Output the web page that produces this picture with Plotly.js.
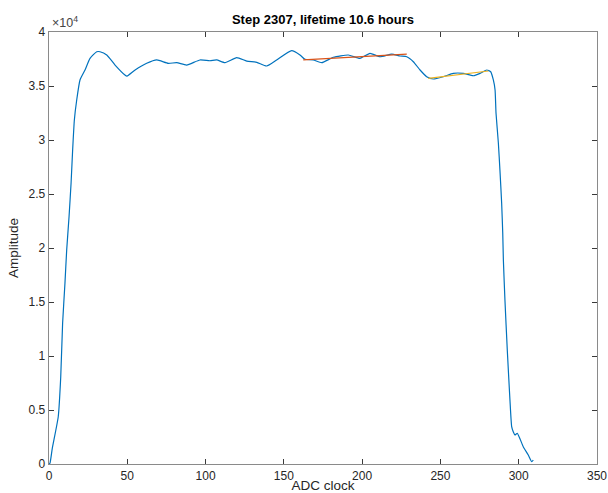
<!DOCTYPE html>
<html>
<head>
<meta charset="utf-8">
<script src="https://cdn.plot.ly/plotly-3.0.1.min.js"></script>
<style>html,body{margin:0;padding:0;background:#fff;}#chart{width:608px;height:493px;}</style>
</head>
<body>
<div id="chart"></div>
<script>
const adcClock = [0, 0.6, 2.1, 5.9, 7.5, 8.7, 10.2, 11.3, 12.8, 14.1, 15.1, 16.2, 17.7, 19.8, 23.0, 26.2, 30.5, 32.6, 36.9, 42.2, 48.5, 49.8, 55, 62.4, 68.8, 76.2, 81.6, 87.9, 96.4, 102.8, 107.1, 112.4, 119.9, 126.3, 132.7, 139.0, 145.4, 155.0, 160.3, 163.5, 168.8, 174.2, 181.6, 191.2, 198.6, 205.0, 211.4, 218.9, 224.2, 228.5, 232.7, 237.0, 241.2, 245.5, 251.8, 258.2, 264.6, 271.0, 275.3, 279.6, 282.1, 283.8, 284.9, 285.5, 287.0, 288.0, 289.1, 289.8, 290.2, 291.2, 292.7, 294.4, 295.5, 296.5, 297.6, 299.1, 302.9, 306.1, 308.3, 309.3];
const amplitude = [0, 65, 1450, 4380, 8080, 13050, 16760, 19810, 22900, 26020, 29070, 31850, 33700, 35560, 36480, 37560, 38170, 38170, 37870, 36940, 36020, 35920, 36480, 37100, 37410, 37100, 37160, 36940, 37410, 37340, 37410, 37160, 37620, 37310, 37190, 36850, 37410, 38270, 37870, 37470, 37410, 37160, 37660, 37870, 37560, 38030, 37710, 37960, 37780, 37710, 37250, 36480, 35860, 35650, 35860, 36170, 36170, 35950, 36170, 36480, 36320, 35560, 34630, 32500, 29720, 27220, 24170, 21390, 18890, 15190, 10560, 5930, 3460, 2990, 2690, 2840, 1600, 830, 210, 370];
const fit1X = [162.4, 228.5];
const fit1Y = [37410, 37960];
const fit2X = [242.2, 280.6];
const fit2Y = [35710, 36390];
const xTickVals = [0, 50, 100, 150, 200, 250, 300, 350];
const yTickVals = [0, 5000, 10000, 15000, 20000, 25000, 30000, 35000, 40000];
const yTickText = ['0', '0.5', '1', '1.5', '2', '2.5', '3', '3.5', '4'];

const font = 'Liberation Sans, Arial, Helvetica, sans-serif';
const traces = [
  {x: adcClock, y: amplitude, mode: 'lines', line: {color: '#0072BD', width: 1.2, shape: 'spline', smoothing: 0.5}, hoverinfo: 'none'},
  {x: fit1X, y: fit1Y, mode: 'lines', line: {color: '#D95319', width: 1.2}, hoverinfo: 'none'},
  {x: fit2X, y: fit2Y, mode: 'lines', line: {color: '#EDB120', width: 1.2}, hoverinfo: 'none'}
];
const axisCommon = {
  showline: true, linecolor: '#8a8a8a', linewidth: 1.3, mirror: 'ticks',
  ticks: 'inside', ticklen: 5, tickwidth: 1, tickcolor: '#3a3a3a',
  showgrid: false, zeroline: false, tickfont: {family: font, size: 12, color: '#262626'}
};
const layout = {
  width: 608, height: 493,
  margin: {l: 49, r: 11, t: 32, b: 29},
  paper_bgcolor: '#fff', plot_bgcolor: '#fff',
  showlegend: false,
  title: {text: '<b>Step 2307, lifetime 10.6 hours</b>', font: {family: font, size: 13, color: '#000'}, x: 0.5, xanchor: 'center', xref: 'paper', y: 0.961, yref: 'container', yanchor: 'middle'},
  xaxis: Object.assign({}, axisCommon, {range: [0, 350], tickvals: xTickVals, ticktext: xTickVals.map(String),
    title: {text: 'ADC clock', font: {family: font, size: 13.5, color: '#262626'}, standoff: 2}}),
  yaxis: Object.assign({}, axisCommon, {range: [0, 40000], tickvals: yTickVals, ticktext: yTickText,
    title: {text: 'Amplitude', font: {family: font, size: 13.5, color: '#262626'}, standoff: 7}}),
  annotations: [{
    xref: 'paper', yref: 'paper', x: 0, y: 1, xanchor: 'left', yanchor: 'bottom', xshift: 1,
    text: '×10<sup>4</sup>', showarrow: false, font: {family: font, size: 12.5, color: '#444'}
  }]
};
Plotly.newPlot('chart', traces, layout, {staticPlot: true, displayModeBar: false});
</script>
</body>
</html>
